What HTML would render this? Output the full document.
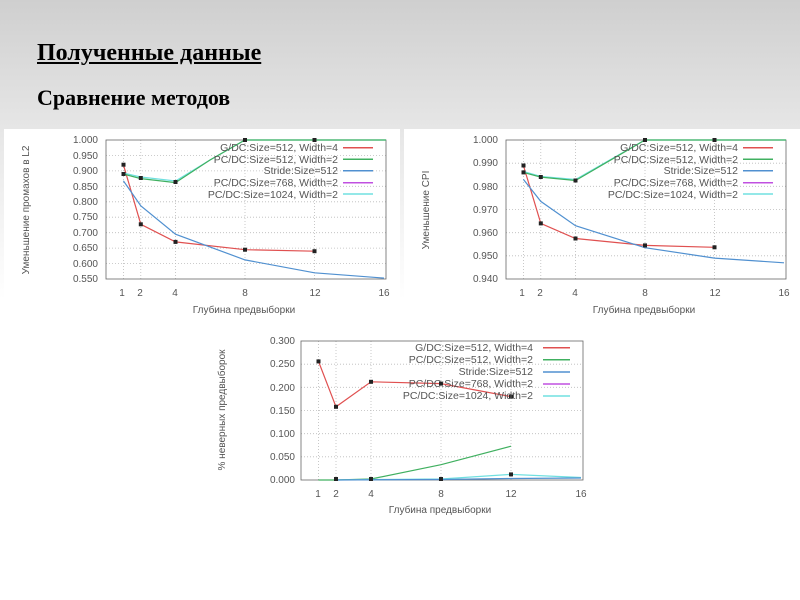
<!DOCTYPE html>
<html><head><meta charset="utf-8"><style>
body{margin:0;width:800px;height:600px;overflow:hidden;background:linear-gradient(#cfcfcf 0px,#e6e6e6 128px,#fff 300px,#fff 600px);font-family:"Liberation Serif",serif;position:relative}
.t1{position:absolute;left:37px;top:41px;font-size:24px;line-height:1;font-weight:bold;text-decoration:underline}
.t2{position:absolute;left:37px;top:87px;font-size:22px;line-height:1;font-weight:bold}
svg{position:absolute;left:0;top:0}
svg text{font-family:"Liberation Sans",sans-serif;fill:#555}
</style></head><body>
<div class="t1">Полученные данные</div>
<div class="t2">Сравнение методов</div>
<svg width="800" height="600">
<rect x="4" y="129" width="396" height="168" fill="#fff"/>
<rect x="404" y="129" width="396" height="168" fill="#fff"/>
<g stroke="#bbb" stroke-dasharray="1,2" stroke-width="0.8">
<path d="M123.4 140V279M140.8 140V279M175.5 140V279M245 140V279M314.5 140V279M106 155.4H386M106 170.9H386M106 186.3H386M106 201.8H386M106 217.2H386M106 232.7H386M106 248.1H386M106 263.6H386"/>
<path d="M523.4 140V279M540.8 140V279M575.5 140V279M645 140V279M714.5 140V279M506 163.2H786M506 186.3H786M506 209.5H786M506 232.7H786M506 255.8H786"/>
<path d="M318.5 341V480M336 341V480M371 341V480M441 341V480M511 341V480M301 364.2H583M301 387.3H583M301 410.5H583M301 433.7H583M301 456.8H583"/>
</g>
<g fill="none" stroke="#666" stroke-width="0.8">
<rect x="106" y="140" width="280" height="139"/>
<rect x="506" y="140" width="280" height="139"/>
<rect x="301" y="341" width="282" height="139"/>
</g>
<g font-size="10" text-anchor="end">
<text x="98" y="143">1.000</text><text x="98" y="159">0.950</text><text x="98" y="174">0.900</text><text x="98" y="190">0.850</text><text x="98" y="205">0.800</text><text x="98" y="220">0.750</text><text x="98" y="236">0.700</text><text x="98" y="251">0.650</text><text x="98" y="267">0.600</text><text x="98" y="282">0.550</text>
<text x="498" y="143">1.000</text><text x="498" y="166">0.990</text><text x="498" y="190">0.980</text><text x="498" y="213">0.970</text><text x="498" y="236">0.960</text><text x="498" y="259">0.950</text><text x="498" y="282">0.940</text>
<text x="295" y="344">0.300</text><text x="295" y="367">0.250</text><text x="295" y="391">0.200</text><text x="295" y="414">0.150</text><text x="295" y="437">0.100</text><text x="295" y="460">0.050</text><text x="295" y="483">0.000</text>
</g>
<g font-size="10" text-anchor="middle">
<text x="122" y="296">1</text><text x="140" y="296">2</text><text x="175" y="296">4</text><text x="245" y="296">8</text><text x="315" y="296">12</text><text x="384" y="296">16</text>
<text x="522" y="296">1</text><text x="540" y="296">2</text><text x="575" y="296">4</text><text x="645" y="296">8</text><text x="715" y="296">12</text><text x="784" y="296">16</text>
<text x="318" y="497">1</text><text x="336" y="497">2</text><text x="371" y="497">4</text><text x="441" y="497">8</text><text x="511" y="497">12</text><text x="581" y="497">16</text>
<text x="244" y="313">Глубина предвыборки</text><text x="644" y="313">Глубина предвыборки</text><text x="440" y="513">Глубина предвыборки</text>
<text transform="translate(29,210) rotate(-90)">Уменьшение промахов в L2</text>
<text transform="translate(429,210) rotate(-90)">Уменьшение CPI</text>
<text transform="translate(225,410) rotate(-90)">% неверных предвыборок</text>
</g>
<g fill="none" stroke-width="1.2">
<polyline stroke="#e05050" points="123.4,164.7 140.8,224.3 175.5,241.9 245,249.7 314.5,251.2"/>
<polyline stroke="#70e0e0" points="123.4,173 140.8,177 175.5,181 210,160 245,140 386,140"/>
<polyline stroke="#40b060" points="123.4,174 140.8,178.6 175.5,182.6 210,160 245,140 386,140"/>
<polyline stroke="#5090d0" points="123.4,180.8 140.8,205.8 175.5,234.2 245,259.9 314.5,272.8 384,278.1"/>
<polyline stroke="#e05050" points="523.4,165.5 540.8,223.4 575.5,238.5 645,245.4 714.5,247.3"/>
<polyline stroke="#70e0e0" points="523.4,171.5 540.8,176.5 575.5,179.5 645,140 786,140"/>
<polyline stroke="#40b060" points="523.4,172.4 540.8,177.1 575.5,180.5 645,140 786,140"/>
<polyline stroke="#5090d0" points="523.4,179.4 540.8,201.4 575.5,225.7 645,247.7 714.5,258.1 784,262.8"/>
<polyline stroke="#e05050" points="318.5,361.4 336,406.8 371,381.8 441,383.6 511,396.6"/>
<polyline stroke="#40b060" points="318.5,480 336,480 371,479 441,464.7 511,446.2"/>
<polyline stroke="#70e0e0" points="336,480 371,479.5 441,479 511,474.4 581,477.5"/>
<polyline stroke="#5090d0" points="336,480 441,479.5 511,478.5 581,478"/>
</g>
<g fill="#222">
<rect x="121.5" y="162.7" width="4" height="4"/><rect x="138.8" y="222.3" width="4" height="4"/><rect x="173.5" y="239.9" width="4" height="4"/><rect x="243" y="247.7" width="4" height="4"/><rect x="312.5" y="249.2" width="4" height="4"/>
<rect x="243" y="138" width="4" height="4"/><rect x="312.5" y="138" width="4" height="4"/><rect x="173.5" y="180" width="4" height="4"/><rect x="138.8" y="176" width="4" height="4"/><rect x="121.5" y="172" width="4" height="4"/>
<rect x="521.5" y="163.5" width="4" height="4"/><rect x="538.8" y="221.4" width="4" height="4"/><rect x="573.5" y="236.5" width="4" height="4"/><rect x="643" y="243.4" width="4" height="4"/><rect x="712.5" y="245.3" width="4" height="4"/>
<rect x="643" y="138" width="4" height="4"/><rect x="712.5" y="138" width="4" height="4"/><rect x="573.5" y="178.5" width="4" height="4"/><rect x="538.8" y="175" width="4" height="4"/><rect x="521.5" y="170.4" width="4" height="4"/>
<rect x="316.5" y="359.4" width="4" height="4"/><rect x="334" y="404.8" width="4" height="4"/><rect x="369" y="379.8" width="4" height="4"/><rect x="439" y="381.6" width="4" height="4"/><rect x="509" y="394.6" width="4" height="4"/>
<rect x="509" y="472.4" width="4" height="4"/><rect x="439" y="477" width="4" height="4"/><rect x="369" y="477" width="4" height="4"/><rect x="334" y="477" width="4" height="4"/>
</g>
<g font-size="10.5" text-anchor="end" fill="#444">
<text x="338" y="151">G/DC:Size=512, Width=4</text><text x="338" y="163">PC/DC:Size=512, Width=2</text><text x="338" y="174">Stride:Size=512</text><text x="338" y="186">PC/DC:Size=768, Width=2</text><text x="338" y="198">PC/DC:Size=1024, Width=2</text>
<text x="738" y="151">G/DC:Size=512, Width=4</text><text x="738" y="163">PC/DC:Size=512, Width=2</text><text x="738" y="174">Stride:Size=512</text><text x="738" y="186">PC/DC:Size=768, Width=2</text><text x="738" y="198">PC/DC:Size=1024, Width=2</text>
<text x="533" y="351">G/DC:Size=512, Width=4</text><text x="533" y="363">PC/DC:Size=512, Width=2</text><text x="533" y="375">Stride:Size=512</text><text x="533" y="387">PC/DC:Size=768, Width=2</text><text x="533" y="399">PC/DC:Size=1024, Width=2</text>
</g>
<g stroke-width="1.5">
<path stroke="#e05050" d="M343 147.7H373M743 147.7H773M543 347.7H570"/>
<path stroke="#40b060" d="M343 159.3H373M743 159.3H773M543 359.7H570"/>
<path stroke="#5090d0" d="M343 170.7H373M743 170.7H773M543 372H570"/>
<path stroke="#c050e0" d="M343 182.7H373M743 182.7H773M543 384H570"/>
<path stroke="#70e0e0" d="M343 194H373M743 194H773M543 396H570"/>
</g>
</svg>
</body></html>
